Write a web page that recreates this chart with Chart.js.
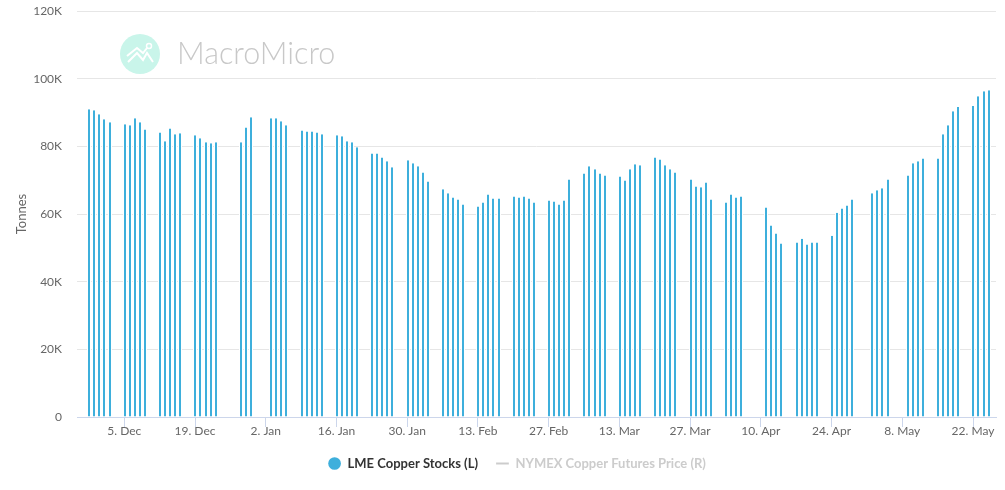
<!DOCTYPE html>
<html>
<head>
<meta charset="utf-8">
<title>LME Copper Stocks</title>
<script src="https://cdn.jsdelivr.net/npm/chart.js@4"></script>
<style>
  html, body { margin: 0; padding: 0; background: #fff; overflow: hidden; }
  #chart { display: block; }
</style>
</head>
<body>
<canvas id="chart" width="1005" height="490"></canvas>
<script>
const stockDates = [
  '2016-11-28','2016-11-29','2016-11-30','2016-12-01','2016-12-02',
  '2016-12-05','2016-12-06','2016-12-07','2016-12-08','2016-12-09',
  '2016-12-12','2016-12-13','2016-12-14','2016-12-15','2016-12-16',
  '2016-12-19','2016-12-20','2016-12-21','2016-12-22','2016-12-23',
  '2016-12-28','2016-12-29','2016-12-30',
  '2017-01-03','2017-01-04','2017-01-05','2017-01-06',
  '2017-01-09','2017-01-10','2017-01-11','2017-01-12','2017-01-13',
  '2017-01-16','2017-01-17','2017-01-18','2017-01-19','2017-01-20',
  '2017-01-23','2017-01-24','2017-01-25','2017-01-26','2017-01-27',
  '2017-01-30','2017-01-31','2017-02-01','2017-02-02','2017-02-03',
  '2017-02-06','2017-02-07','2017-02-08','2017-02-09','2017-02-10',
  '2017-02-13','2017-02-14','2017-02-15','2017-02-16','2017-02-17',
  '2017-02-20','2017-02-21','2017-02-22','2017-02-23','2017-02-24',
  '2017-02-27','2017-02-28','2017-03-01','2017-03-02','2017-03-03',
  '2017-03-06','2017-03-07','2017-03-08','2017-03-09','2017-03-10',
  '2017-03-13','2017-03-14','2017-03-15','2017-03-16','2017-03-17',
  '2017-03-20','2017-03-21','2017-03-22','2017-03-23','2017-03-24',
  '2017-03-27','2017-03-28','2017-03-29','2017-03-30','2017-03-31',
  '2017-04-03','2017-04-04','2017-04-05','2017-04-06',
  '2017-04-11','2017-04-12','2017-04-13','2017-04-14',
  '2017-04-17','2017-04-18','2017-04-19','2017-04-20','2017-04-21',
  '2017-04-24','2017-04-25','2017-04-26','2017-04-27','2017-04-28',
  '2017-05-02','2017-05-03','2017-05-04','2017-05-05',
  '2017-05-09','2017-05-10','2017-05-11','2017-05-12',
  '2017-05-15','2017-05-16','2017-05-17','2017-05-18','2017-05-19',
  '2017-05-22','2017-05-23','2017-05-24','2017-05-25'
];
// tonnes
const stockValues = [
  90950,90650,89500,88000,87100,
  86500,86200,88300,87100,85000,
  84100,81500,85300,83600,83900,
  83300,82400,81200,80900,81200,
  81200,85600,88600,
  88300,88300,87400,86200,
  84700,84400,84400,84100,83600,
  83300,83000,81500,81200,79700,
  77900,77900,76700,75600,73800,
  75900,75000,74100,72300,69600,
  67300,66100,64900,64300,62800,
  62200,63400,65800,64600,64600,
  65200,64900,65200,64600,63400,
  64000,63700,62800,64000,70200,
  72000,74100,73200,72000,71400,
  71100,69900,73200,74700,74400,
  76700,76100,74400,73200,72300,
  70200,68100,67900,69300,64300,
  63400,65800,64900,65200,
  61900,56600,54200,51300,
  51600,52700,51000,51600,51600,
  53600,60400,61600,62500,64300,
  66100,67000,67600,70200,
  71400,75000,75600,76400,
  76400,83600,86200,90400,91600,
  91900,94800,96300,96600
];
const xTickDates = ['2016-12-05','2016-12-19','2017-01-02','2017-01-16','2017-01-30','2017-02-13','2017-02-27','2017-03-13','2017-03-27','2017-04-10','2017-04-24','2017-05-08','2017-05-22'];
const xTickLabels = ['5. Dec','19. Dec','2. Jan','16. Jan','30. Jan','13. Feb','27. Feb','13. Mar','27. Mar','10. Apr','24. Apr','8. May','22. May'];
const yTickValues = [0,20000,40000,60000,80000,100000,120000];
const yTickLabels = ['0','20K','40K','60K','80K','100K','120K'];

const seriesNames = ['LME Copper Stocks (L)','NYMEX Copper Futures Price (R)'];

const FONT = 'Lato, "Noto Sans", sans-serif';
const toDay = d => Date.parse(d + 'T00:00:00Z') / 86400000;
const xTickDays = xTickDates.map(toDay);

// snap bars to whole pixels, reference bars are crisp
const snapBars = {
  id: 'snapBars',
  afterDatasetsUpdate(chart) {
    chart.getDatasetMeta(0).data.forEach(el => { el.x = Math.round(el.x + 0.4); });
  }
};

// faint site logo behind the plot
const watermark = {
  id: 'watermark',
  beforeDraw(chart) {
    const ctx = chart.ctx;
    ctx.save();
    ctx.fillStyle = '#c9f5ea';
    ctx.beginPath();
    ctx.arc(140, 54, 20, 0, Math.PI * 2);
    ctx.fill();
    ctx.strokeStyle = '#fff';
    ctx.lineWidth = 2;
    ctx.beginPath();
    ctx.moveTo(127, 56); ctx.lineTo(137, 48); ctx.lineTo(143, 53); ctx.lineTo(147, 48);
    ctx.moveTo(128, 62); ctx.lineTo(137, 53); ctx.lineTo(143, 60); ctx.lineTo(147, 53); ctx.lineTo(153, 62);
    ctx.stroke();
    ctx.lineWidth = 1.5;
    ctx.beginPath();
    ctx.arc(149, 46, 2.5, 0, Math.PI * 2);
    ctx.stroke();
    ctx.fillStyle = '#c8c8c8';
    ctx.font = '300 30.5px ' + FONT;
    ctx.textBaseline = 'alphabetic';
    ctx.fillText('MacroMicro', 177, 64);
    ctx.restore();
  }
};

// legend sits right of canvas centre in the reference
const legendNudge = {
  id: 'legendNudge',
  beforeDraw(chart) {
    chart.legend.left += 19;
    chart.legend.right += 19;
  }
};

new Chart(document.getElementById('chart'), {
  type: 'bar',
  data: {
    datasets: [
      {
        label: seriesNames[0],
        data: stockDates.map((d, i) => ({ x: toDay(d), y: stockValues[i] })),
        backgroundColor: '#3eafdc',
        borderColor: '#ffffff',
        borderWidth: { left: 1, right: 1, top: 0, bottom: 0 },
        borderSkipped: false,
        inflateAmount: 0,
        barThickness: 4
      },
      {
        type: 'line',
        label: seriesNames[1],
        data: [],
        borderColor: '#cccccc'
      }
    ]
  },
  options: {
    responsive: false,
    animation: false,
    layout: { padding: { top: 0, right: 9, left: 0, bottom: 10 } },
    plugins: {
      tooltip: { enabled: false },
      legend: {
        position: 'bottom',
        onClick: null,
        labels: {
          usePointStyle: true,
          boxHeight: 9,
          padding: 18,
          font: { family: FONT, size: 13, weight: 'bold' },
          generateLabels: () => [
            { text: seriesNames[0], fillStyle: '#3eafdc', strokeStyle: '#3eafdc', lineWidth: 0, pointStyle: 'circle', fontColor: '#333333', datasetIndex: 0 },
            { text: seriesNames[1], fillStyle: '#cccccc', strokeStyle: '#cccccc', lineWidth: 2, pointStyle: 'line', fontColor: '#cccccc', datasetIndex: 1 }
          ]
        }
      }
    },
    scales: {
      x: {
        type: 'linear',
        offset: false,
        min: xTickDays[0] - 9.36,
        max: xTickDays[0] + 172.55,
        afterBuildTicks: scale => { scale.ticks = xTickDays.map(v => ({ value: v })); },
        afterFit: scale => { scale.height = 22; },
        border: { color: '#ccd6eb', width: 1 },
        grid: { offset: false, drawOnChartArea: false, tickLength: 10, tickColor: '#ccd6eb' },
        ticks: {
          autoSkip: false,
          maxRotation: 0,
          padding: -3,
          color: '#666666',
          font: { family: FONT, size: 12 },
          callback: value => xTickLabels[xTickDays.indexOf(value)]
        }
      },
      y: {
        min: 0,
        max: 120000,
        afterBuildTicks: scale => { scale.ticks = yTickValues.map(v => ({ value: v })); },
        afterFit: scale => { scale.width = 77; scale.paddingTop = 11; scale.paddingBottom = 0; },
        border: { display: false },
        grid: { color: '#e6e6e6', drawTicks: false },
        title: { display: true, text: 'Tonnes', color: '#666666', font: { family: FONT, size: 13 }, padding: { top: 14, bottom: 0 } },
        ticks: {
          padding: 15,
          color: '#666666',
          font: { family: FONT, size: 12 },
          callback: value => yTickLabels[yTickValues.indexOf(value)]
        }
      }
    }
  },
  plugins: [snapBars, watermark, legendNudge]
});
</script>
</body>
</html>
